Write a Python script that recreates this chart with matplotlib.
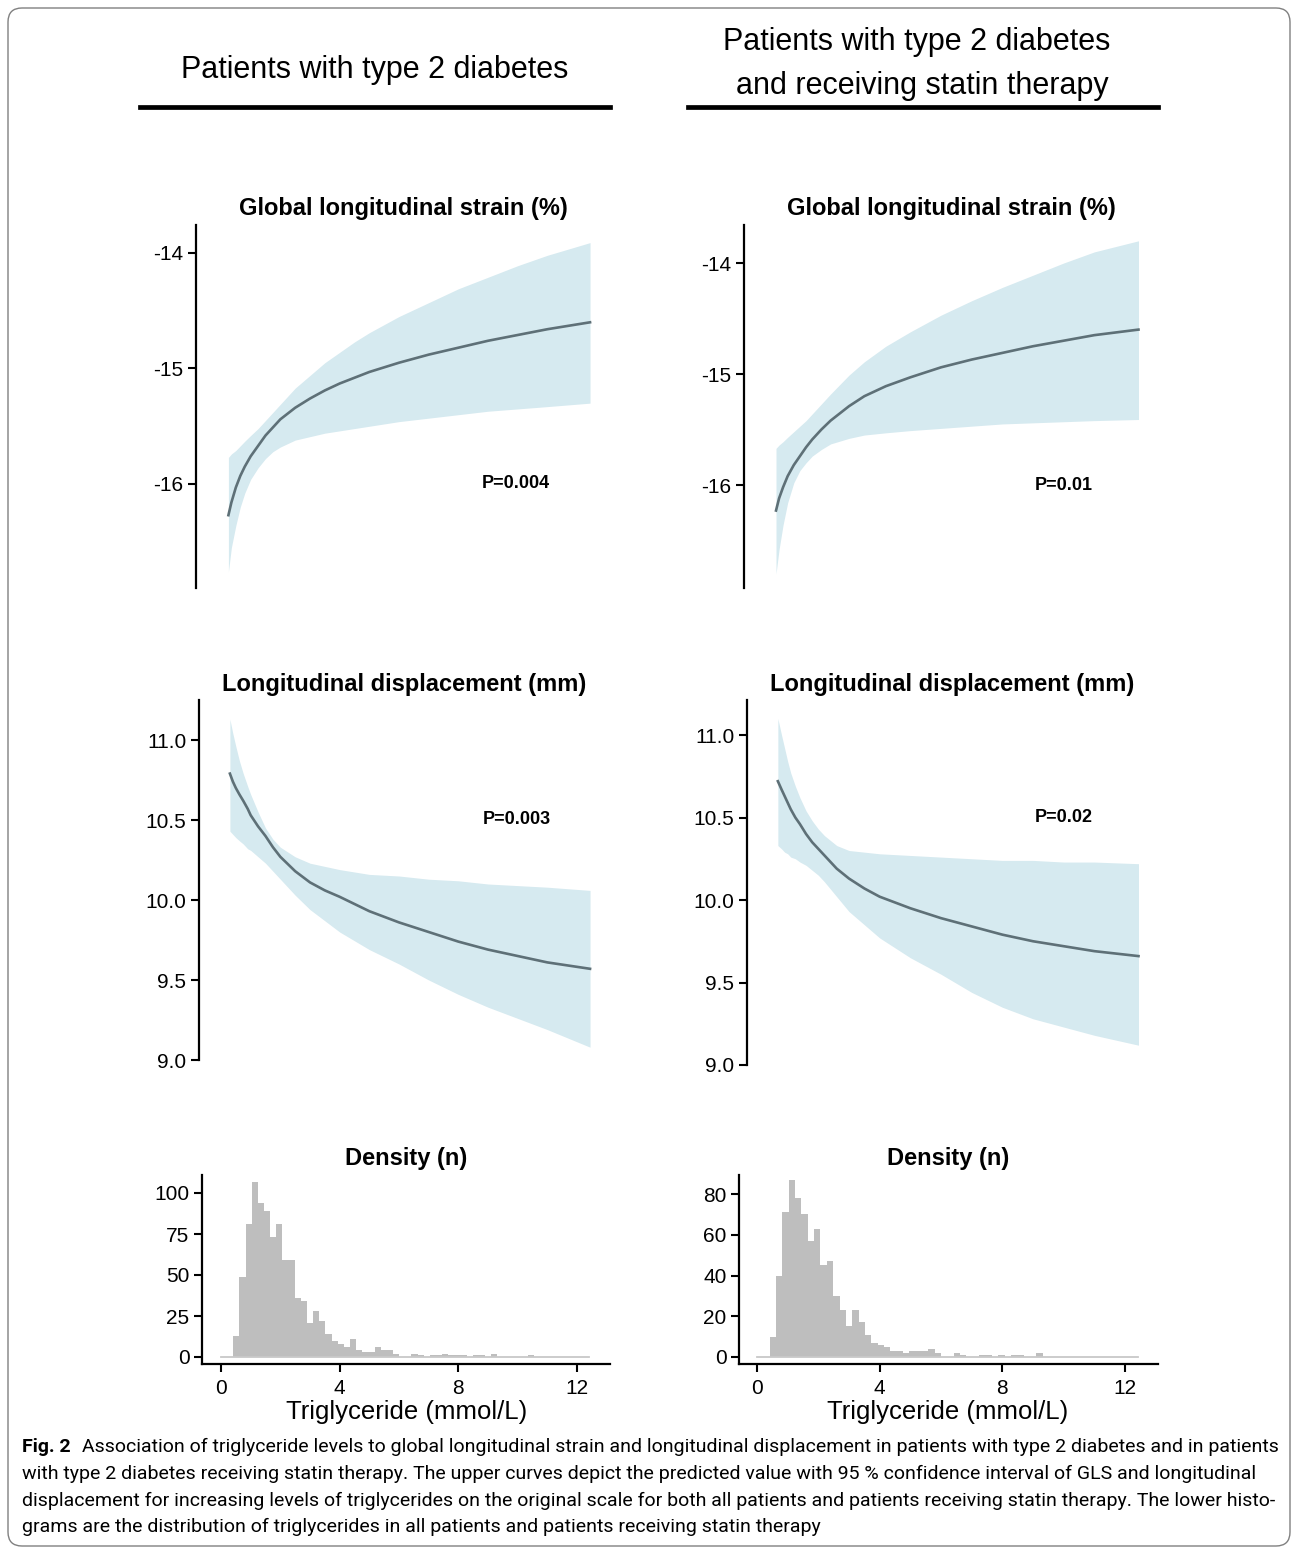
import numpy as np
import matplotlib.pyplot as plt
from matplotlib.lines import Line2D
from matplotlib.patches import FancyBboxPatch
from matplotlib.text import Annotation
from matplotlib.transforms import IdentityTransform

plt.rcParams['font.family'] = ['Liberation Sans', 'DejaVu Sans']

W, H = 1292, 1548

# ---------------- data ----------------
# GLS, all patients
gls_all_x = [0.25, 0.35, 0.5, 0.65, 0.8, 1.0, 1.25, 1.5, 1.75, 2.0, 2.5, 3.0, 3.5, 4.0, 4.5, 5.0,
             6.0, 7.0, 8.0, 9.0, 10.0, 11.0, 12.44]
gls_all_fit = [-16.27, -16.16, -16.03, -15.93, -15.85, -15.76, -15.67, -15.58, -15.51, -15.44, -15.34,
               -15.26, -15.19, -15.13, -15.08, -15.03, -14.95, -14.88, -14.82, -14.76, -14.71, -14.66, -14.60]
gls_all_hi = [-15.77, -15.74, -15.71, -15.67, -15.63, -15.58, -15.52, -15.45, -15.38, -15.31, -15.17,
              -15.06, -14.95, -14.86, -14.77, -14.69, -14.55, -14.43, -14.31, -14.21, -14.11, -14.02, -13.91]
gls_all_lo = [-16.76, -16.55, -16.36, -16.20, -16.08, -15.96, -15.86, -15.78, -15.72, -15.68, -15.62,
              -15.59, -15.56, -15.54, -15.52, -15.50, -15.46, -15.43, -15.40, -15.37, -15.35, -15.33, -15.30]

# GLS, statin therapy
gls_sta_x = [0.62, 0.72, 0.85, 1.0, 1.2, 1.4, 1.6, 1.8, 2.1, 2.4, 3.0, 3.5, 4.2, 5.0, 6.0, 7.0,
             8.0, 9.0, 10.0, 11.0, 12.44]
gls_sta_fit = [-16.23, -16.12, -16.02, -15.92, -15.82, -15.74, -15.66, -15.59, -15.50, -15.42, -15.29,
               -15.20, -15.11, -15.03, -14.94, -14.87, -14.81, -14.75, -14.70, -14.65, -14.60]
gls_sta_hi = [-15.67, -15.64, -15.61, -15.57, -15.52, -15.47, -15.42, -15.36, -15.27, -15.18, -15.01,
              -14.89, -14.75, -14.62, -14.47, -14.34, -14.22, -14.11, -14.00, -13.90, -13.80]
gls_sta_lo = [-16.80, -16.58, -16.36, -16.16, -15.98, -15.87, -15.80, -15.74, -15.68, -15.63, -15.58,
              -15.55, -15.53, -15.51, -15.49, -15.47, -15.45, -15.44, -15.43, -15.42, -15.41]

# longitudinal displacement, all patients
ld_all_x = [0.3, 0.4, 0.5, 0.62, 0.75, 0.9, 1.0, 1.25, 1.5, 1.75, 2.0, 2.5, 3.0, 3.5, 4.0, 5.0,
            6.0, 7.0, 8.0, 9.0, 10.0, 11.0, 12.44]
ld_all_fit = [10.79, 10.74, 10.70, 10.66, 10.62, 10.57, 10.53, 10.46, 10.40, 10.33, 10.27, 10.18,
              10.11, 10.06, 10.02, 9.93, 9.86, 9.80, 9.74, 9.69, 9.65, 9.61, 9.57]
ld_all_hi = [11.13, 11.04, 10.96, 10.87, 10.79, 10.71, 10.66, 10.55, 10.45, 10.38, 10.33, 10.27,
             10.23, 10.21, 10.19, 10.16, 10.15, 10.13, 10.12, 10.10, 10.09, 10.08, 10.06]
ld_all_lo = [10.43, 10.41, 10.39, 10.37, 10.35, 10.32, 10.31, 10.27, 10.23, 10.18, 10.13, 10.03,
             9.94, 9.87, 9.80, 9.69, 9.60, 9.50, 9.41, 9.33, 9.26, 9.19, 9.08]

# longitudinal displacement, statin therapy
ld_sta_x = [0.68, 0.8, 0.9, 1.0, 1.1, 1.25, 1.4, 1.6, 1.8, 2.0, 2.2, 2.6, 3.0, 3.5, 4.0, 5.0,
            6.0, 7.0, 8.0, 9.0, 10.0, 11.0, 12.44]
ld_sta_fit = [10.72, 10.67, 10.63, 10.59, 10.55, 10.50, 10.46, 10.40, 10.35, 10.31, 10.27, 10.19,
              10.13, 10.07, 10.02, 9.95, 9.89, 9.84, 9.79, 9.75, 9.72, 9.69, 9.66]
ld_sta_hi = [11.10, 11.00, 10.92, 10.84, 10.77, 10.69, 10.62, 10.54, 10.48, 10.43, 10.39, 10.33,
             10.30, 10.29, 10.28, 10.27, 10.26, 10.25, 10.24, 10.24, 10.23, 10.23, 10.22]
ld_sta_lo = [10.33, 10.31, 10.29, 10.28, 10.26, 10.25, 10.23, 10.21, 10.18, 10.15, 10.11, 10.02,
             9.93, 9.85, 9.77, 9.65, 9.55, 9.44, 9.35, 9.28, 9.23, 9.18, 9.12]

# triglyceride histograms (60 bins starting at 0)
bin_width = 0.207
hist_all = [0, 0, 13, 49, 81, 107, 94, 89, 73, 81,
            59, 59, 36, 34, 21, 28, 22, 14, 10, 8,
            6, 11, 4, 3, 3, 6, 4, 4, 2, 0,
            0, 2, 1, 0, 1, 1, 2, 1, 1, 1,
            0, 1, 1, 0, 2, 0, 0, 0, 0, 0,
            1, 0, 0, 0, 0, 0, 0, 0, 0, 0]
hist_sta = [0, 0, 10, 40, 71, 87, 78, 70, 57, 63,
            45, 47, 30, 23, 15, 23, 17, 11, 7, 6,
            5, 3, 3, 2, 3, 3, 3, 4, 2, 0,
            0, 2, 1, 0, 0, 1, 1, 0, 1, 0,
            1, 1, 0, 0, 2, 0, 0, 0, 0, 0,
            0, 0, 0, 0, 0, 0, 0, 0, 0, 0]

p_values = ['P=0.004', 'P=0.003', 'P=0.01', 'P=0.02']

band_col = '#d6eaf0'
line_col = '#5e7077'
hist_col = '#bebebe'


def fx(px):
    return px / W


def fy(py):
    return 1 - py / H


def make_axes(fig, left, top, right, bottom, xref, yref):
    # xref / yref: two (value, pixel) pairs that fix the scale
    ax = fig.add_axes([fx(left), fy(bottom), fx(right) - fx(left), fy(top) - fy(bottom)])
    (xv0, xp0), (xv1, xp1) = xref
    sx = (xv1 - xv0) / (xp1 - xp0)
    ax.set_xlim(xv0 + (left - xp0) * sx, xv0 + (right - xp0) * sx)
    (yv0, yp0), (yv1, yp1) = yref
    sy = (yv1 - yv0) / (yp1 - yp0)
    ax.set_ylim(yv0 + (bottom - yp0) * sy, yv0 + (top - yp0) * sy)
    ax.set_facecolor('none')
    for s in ['top', 'right']:
        ax.spines[s].set_visible(False)
    ax.spines['left'].set_linewidth(1.6)
    ax.spines['bottom'].set_linewidth(1.6)
    ax.tick_params(width=1.5, length=6, labelsize=15, pad=3)
    return ax


def curve_panel(ax, x, fit, lo, hi, ticks, labels):
    ax.fill_between(x, lo, hi, color=band_col, lw=0)
    ax.plot(x, fit, color=line_col, lw=1.9)
    ax.spines['bottom'].set_visible(False)
    ax.set_xticks([])
    ax.set_yticks(ticks)
    ax.set_yticklabels(labels)


def hist_panel(ax, counts, ticks):
    edges = np.arange(len(counts) + 1) * bin_width
    ax.stairs(counts, edges, fill=True, color=hist_col)
    ax.plot([edges[0], edges[-1]], [0, 0], color='#c8c8c8', lw=1.3)
    ax.set_yticks(ticks)
    ax.set_xticks([0, 4, 8, 12])
    ax.tick_params(axis='x', pad=5)


fig = plt.figure(figsize=(W / 100, H / 100), dpi=100)

# left column
ax = make_axes(fig, 196, 225, 610, 588, ((0, 221), (12, 577)), ((-14, 253), (-16, 484)))
curve_panel(ax, gls_all_x, gls_all_fit, gls_all_lo, gls_all_hi, [-14, -15, -16], ['-14', '-15', '-16'])
ax = make_axes(fig, 199, 700, 610, 1060, ((0, 221), (12, 577)), ((11, 740), (9, 1060)))
curve_panel(ax, ld_all_x, ld_all_fit, ld_all_lo, ld_all_hi, [9, 9.5, 10, 10.5, 11],
            ['9.0', '9.5', '10.0', '10.5', '11.0'])
ax = make_axes(fig, 202, 1175, 610, 1364, ((0, 221), (12, 577)), ((100, 1193), (0, 1357)))
hist_panel(ax, hist_all, [0, 25, 50, 75, 100])

# right column
ax = make_axes(fig, 744, 225, 1158, 588, ((0, 757), (12, 1125)), ((-14, 263), (-16, 485)))
curve_panel(ax, gls_sta_x, gls_sta_fit, gls_sta_lo, gls_sta_hi, [-14, -15, -16], ['-14', '-15', '-16'])
ax = make_axes(fig, 747, 700, 1158, 1065, ((0, 757), (12, 1125)), ((11, 735), (9, 1065)))
curve_panel(ax, ld_sta_x, ld_sta_fit, ld_sta_lo, ld_sta_hi, [9, 9.5, 10, 10.5, 11],
            ['9.0', '9.5', '10.0', '10.5', '11.0'])
ax = make_axes(fig, 739, 1175, 1158, 1364, ((0, 757), (12, 1125)), ((80, 1194), (0, 1357)))
hist_panel(ax, hist_sta, [0, 20, 40, 60, 80])

# headers
fig.text(fx(375), fy(78), 'Patients with type 2 diabetes', fontsize=22, ha='center', va='baseline')
fig.text(fx(917), fy(50), 'Patients with type 2 diabetes', fontsize=22, ha='center', va='baseline')
fig.text(fx(922), fy(94), 'and receiving statin therapy', fontsize=22, ha='center', va='baseline')
for x0, x1 in [(140, 610), (688, 1158)]:
    fig.add_artist(Line2D([fx(x0), fx(x1)], [fy(107), fy(107)], color='black', lw=3.4,
                          transform=fig.transFigure))

# panel titles
for xc, yc, txt in [(403, 208, 'Global longitudinal strain (%)'),
                    (951, 208, 'Global longitudinal strain (%)'),
                    (404, 685, 'Longitudinal displacement (mm)'),
                    (952, 685, 'Longitudinal displacement (mm)'),
                    (406, 1159, 'Density (n)'),
                    (948, 1159, 'Density (n)')]:
    fig.text(fx(xc), fy(yc), txt, fontsize=17, fontweight='bold', ha='center', va='center')

# p-values
for (xp, yp), txt in zip([(482, 484), (483, 820), (1035, 486), (1035, 818)], p_values):
    fig.text(fx(xp), fy(yp), txt, fontsize=13, fontweight='bold', ha='left', va='center')

# x axis titles
for xc in [407, 948]:
    fig.text(fx(xc), fy(1412), 'Triglyceride (mmol/L)', fontsize=18.5, ha='center', va='center')

# caption
cap_font = 'Roboto'
cap_lines = [
    'Association of triglyceride levels to global longitudinal strain and longitudinal displacement in patients with type 2 diabetes and in patients',
    'with type 2 diabetes receiving statin therapy. The upper curves depict the predicted value with 95 % confidence interval of GLS and longitudinal',
    'displacement for increasing levels of triglycerides on the original scale for both all patients and patients receiving statin therapy. The lower histo-',
    'grams are the distribution of triglycerides in all patients and patients receiving statin therapy',
]
cap_size = 14.0
fig_lbl = fig.text(fx(22), fy(1447), 'Fig. 2', fontsize=cap_size, fontweight='bold', family=cap_font,
                   ha='left', va='center')
fig.add_artist(Annotation(cap_lines[0], xy=(1, 0.5), xycoords=fig_lbl, xytext=(8, 0),
                          textcoords='offset points', fontsize=cap_size, family=cap_font,
                          ha='left', va='center'))
for i, line in enumerate(cap_lines[1:]):
    fig.text(fx(22), fy(1474 + 26.7 * i), line, fontsize=cap_size, family=cap_font, ha='left', va='center')

# rounded frame
frame = FancyBboxPatch((8, 2), 1282, 1538, boxstyle='round,pad=0,rounding_size=14',
                       transform=IdentityTransform(), fill=False, edgecolor='#808080', lw=1.0)
fig.add_artist(frame)

fig.savefig('out.png', dpi=100)
